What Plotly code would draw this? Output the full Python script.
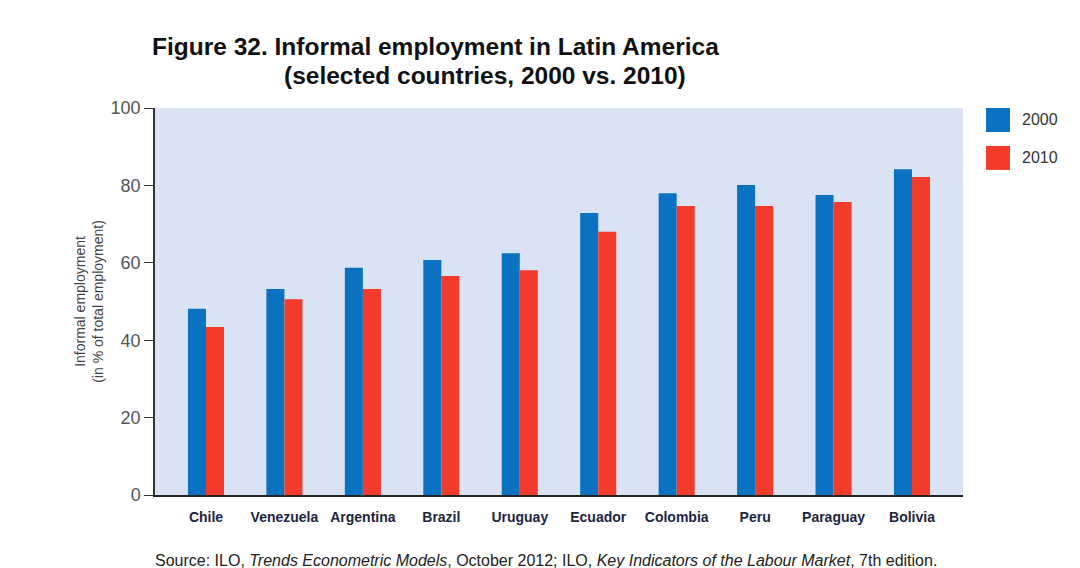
import plotly.graph_objects as go

countries = ["Chile", "Venezuela", "Argentina", "Brazil", "Uruguay", "Ecuador",
             "Colombia", "Peru", "Paraguay", "Bolivia"]
values_2000 = [48.1, 53.2, 58.7, 60.7, 62.5, 72.9, 78.0, 80.1, 77.5, 84.2]
values_2010 = [43.4, 50.6, 53.2, 56.6, 58.1, 68.0, 74.7, 74.7, 75.7, 82.2]
y_ticks = [0, 20, 40, 60, 80, 100]
series_names = ["2000", "2010"]
series_colors = ["#0b72c1", "#f23b2b"]

base = "Liberation Sans, Arial, sans-serif"

fig = go.Figure()
for name, vals, col in zip(series_names, [values_2000, values_2010], series_colors):
    fig.add_trace(go.Bar(name=name, x=countries, y=vals, marker_color=col,
                         marker_line_width=0, showlegend=False))

fig.update_layout(
    width=1080, height=568,
    barmode="group", bargap=0.54, bargroupgap=0,
    paper_bgcolor="white", plot_bgcolor="#dae3f3",
    margin=dict(l=147, r=125, t=100, b=81),
    font=dict(family=base, color="#333"),
    showlegend=False,
    xaxis=dict(range=[-0.65, 9.65], showline=True, linecolor="#222", linewidth=1.5,
               ticks="", showgrid=False, ticklabelstandoff=8,
               tickfont=dict(family=base, size=14, color="#1c2540", weight="bold")),
    yaxis=dict(range=[0, 100], tickvals=y_ticks, showline=True, linecolor="#333",
               linewidth=1.5, ticks="outside", ticklen=9, tickcolor="#333",
               showgrid=False, zeroline=False,
               tickfont=dict(size=18, color="#555"),
               title=dict(text="Informal employment<br>(in % of total employment)",
                          font=dict(size=14, color="#444"), standoff=4)),
)

# legend: large square swatches with labels, as in the reference
legend_y = [1.0, 0.902]
for name, col, yy in zip(series_names, series_colors, legend_y):
    fig.add_shape(type="rect", xref="paper", yref="paper",
                  x0=1.0285, x1=1.0582, y0=yy - 0.062, y1=yy,
                  fillcolor=col, line_width=0)
    fig.add_annotation(text=name, xref="paper", yref="paper", x=1.071, y=yy - 0.031,
                       xanchor="left", yanchor="middle", showarrow=False,
                       font=dict(family=base, size=16, color="#333"))

fig.add_annotation(text="<b>Figure 32. Informal employment in Latin America</b>",
                   xref="paper", yref="paper", x=-0.006, y=1.158, xanchor="left",
                   yanchor="middle", showarrow=False,
                   font=dict(family=base, size=24.5, color="#111"))
fig.add_annotation(text="<b>(selected countries, 2000 vs. 2010)</b>",
                   xref="paper", yref="paper", x=0.157, y=1.085, xanchor="left",
                   yanchor="middle", showarrow=False,
                   font=dict(family=base, size=24.5, color="#111"))
fig.add_annotation(text="Source: ILO, <i>Trends Econometric Models</i>, October 2012; ILO, "
                        "<i>Key Indicators of the Labour Market</i>, 7th edition.",
                   xref="paper", yref="paper", x=-0.0025, y=-0.168, xanchor="left",
                   yanchor="middle", showarrow=False,
                   font=dict(family=base, size=16, color="#222"))

fig.write_html("out.html")
